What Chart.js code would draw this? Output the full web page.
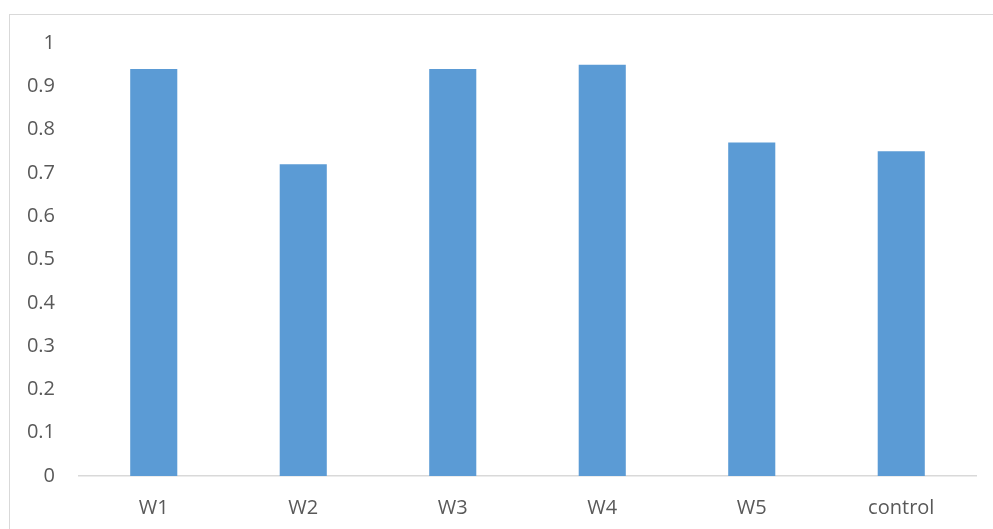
<!DOCTYPE html>
<html>
<head>
<meta charset="utf-8">
<script src="https://cdn.jsdelivr.net/npm/chart.js@4"></script>
<style>
  html, body { margin: 0; padding: 0; background: #fff; overflow: hidden; }
  #frame { position: absolute; left: 9px; top: 14px; width: 1200px; height: 800px; border: 1px solid #d9d9d9; }
  #wrap { position: absolute; left: 0; top: 0; width: 993px; height: 529px; }
</style>
</head>
<body>
<div id="frame"></div>
<div id="wrap"><canvas id="myChart"></canvas></div>
<script>
const categories = ["W1", "W2", "W3", "W4", "W5", "control"];
const values = [0.94, 0.72, 0.94, 0.95, 0.77, 0.75];
const yTicks = ["0", "0.1", "0.2", "0.3", "0.4", "0.5", "0.6", "0.7", "0.8", "0.9", "1"];

document.addEventListener("DOMContentLoaded", () => {
  const ctx = document.getElementById("myChart").getContext("2d");
  new Chart(ctx, config);
});

const data = {
  labels: categories,
  datasets: [
    {
      label: "Series1",
      data: values,
      backgroundColor: "#5b9bd5",
      barPercentage: 0.315,
      categoryPercentage: 1,
    },
  ],
};

const config = {
  type: "bar",
  data: data,
  options: {
    responsive: true,
    maintainAspectRatio: false,
    animation: false,
    layout: {
      padding: { top: 43, right: 17, left: 0, bottom: 0 },
    },
    plugins: {
      legend: { display: false },
      tooltip: { enabled: false },
    },
    scales: {
      x: {
        grid: { display: false },
        border: { display: true, color: "#d9d9d9", width: 1.5 },
        ticks: {
          color: "#595959",
          font: { family: "Open Sans", size: 20 },
          padding: 12,
        },
        afterFit: (scale) => { scale.height = 53; },
      },
      y: {
        min: 0,
        max: 1,
        grid: { display: false },
        border: { display: false },
        ticks: {
          stepSize: 0.1,
          color: "#595959",
          font: { family: "Open Sans", size: 20 },
          padding: 16,
          callback: (v, i) => yTicks[i],
        },
        afterFit: (scale) => { scale.width = 79; },
      },
    },
  },
};
</script>
</body>
</html>
